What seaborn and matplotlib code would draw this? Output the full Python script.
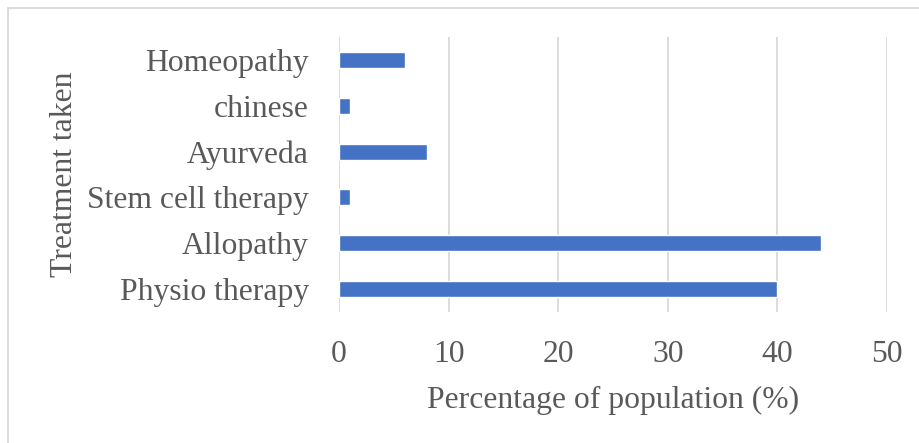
import matplotlib
matplotlib.use("Agg")
import matplotlib.pyplot as plt
import seaborn as sns
import pandas as pd
from matplotlib.patches import Rectangle

categories = ["Homeopathy", "chinese", "Ayurveda", "Stem cell therapy", "Allopathy", "Physio therapy"]
values = [6, 1, 8, 1, 44, 40]
xticks = [0, 10, 20, 30, 40, 50]

df = pd.DataFrame({"Treatment": categories, "Percentage": values})

sns.set_theme(style="white")
plt.rcParams['font.family'] = ['Liberation Serif', 'DejaVu Serif']

text_color = "#595959"
fs = 22.8
fig = plt.figure(figsize=(9.2, 4.43), dpi=100)
ax = fig.add_axes([339/920, 1-312/443, (887-339)/920, (312-37)/443])

sns.barplot(data=df, y="Treatment", x="Percentage", order=categories,
            color="#4472C4", width=0.35, ax=ax, orient="h", saturation=1)

ax.set_xlim(0, 50)
ax.set_xticks(xticks)
ax.set_xticklabels([str(t) for t in xticks], fontsize=fs, color=text_color)
ax.set_yticks(range(len(categories)))
ax.set_yticklabels(categories, fontsize=fs, color=text_color)
ax.set_ylim(len(categories) - 0.5, -0.5)
ax.grid(axis="x", color="#d9d9d9", linewidth=1.3)
ax.set_axisbelow(True)
for s in ax.spines.values():
    s.set_visible(False)
ax.tick_params(axis="both", length=0)
ax.tick_params(axis="x", pad=20)
ax.tick_params(axis="y", pad=21.6)
ax.set_xlabel("Percentage of population (%)", fontsize=fs, color=text_color, labelpad=12)
ax.set_ylabel("Treatment taken", fontsize=fs, color=text_color)
ax.yaxis.set_label_coords(-(339-79)/548, 0.5)

fig.patches.append(Rectangle((8/920, -0.1), 1.2, 0.1 + 1 - 8/443, transform=fig.transFigure,
                             fill=False, edgecolor="#d9d9d9", linewidth=1.3))

fig.savefig("out.png", dpi=100)
